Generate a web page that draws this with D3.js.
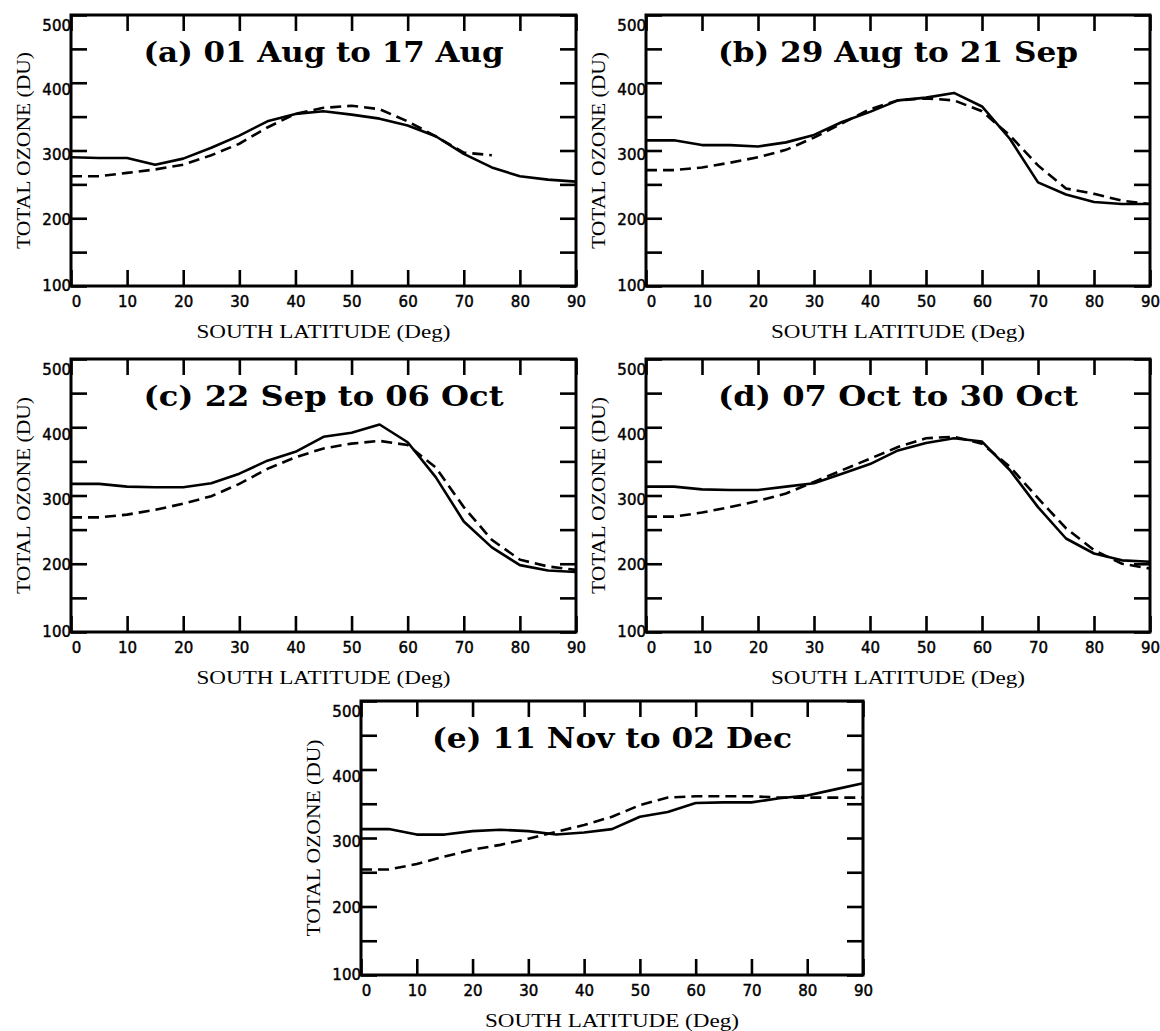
<!DOCTYPE html>
<html><head><meta charset="utf-8">
<script src="https://cdn.jsdelivr.net/npm/d3@7"></script>
<style>body{margin:0;background:#fff}</style>
</head><body>
<svg id="chart" width="1160" height="1031"></svg>
<script>
// ---------- data ----------
const latitudes = [0,5,10,15,20,25,30,35,40,45,50,55,60,65,70,75,80,85,90];
const panelTitles = ["(a) 01 Aug to 17 Aug","(b) 29 Aug to 21 Sep","(c) 22 Sep to 06 Oct","(d) 07 Oct to 30 Oct","(e) 11 Nov to 02 Dec"];
const solidA  = [290,289,289,279,288,304,322,343,354,358,353,347,337,321,295,275,262,257,254];
const dashedA = [262,262,267,272,279,293,310,334,354,363,366,361,343,321,297,293];
const solidB  = [315,315,308,308,306,312,323,342,357,374,378,385,365,317,253,235,224,221,221];
const dashedB = [271,271,275,282,290,301,319,340,361,374,377,374,358,322,278,244,236,226,221];
const solidC  = [317,317,313,312,312,318,332,351,364,386,392,404,378,327,262,224,198,190,188];
const dashedC = [268,268,272,279,288,299,317,339,356,369,376,380,374,341,283,235,206,196,191];
const solidD  = [313,313,309,308,308,313,318,332,346,366,377,384,379,337,283,237,215,205,203];
const dashedD = [269,269,275,283,292,303,320,337,354,371,384,386,376,342,296,252,220,200,193];
const solidE  = [313,313,305,305,310,312,310,305,308,313,331,338,351,352,352,358,362,371,380];
const dashedE = [254,254,262,273,283,290,299,309,319,331,348,359,361,361,361,359,359,359,359];
const xTicks = [0,10,20,30,40,50,60,70,80,90];
const yTicks = [100,150,200,250,300,350,400,450,500];
const yTickLabels = [100,200,300,400,500];
const xAxisTitle = "SOUTH LATITUDE (Deg)";
const yAxisTitle = "TOTAL OZONE (DU)";

// ---------- layout ----------
const layout = [
  {x0:71,  x1:576,  y0:15,  y1:286},
  {x0:646, x1:1150, y0:15,  y1:286},
  {x0:71,  x1:576,  y0:359, y1:632},
  {x0:646, x1:1150, y0:359, y1:632},
  {x0:361, x1:863,  y0:701, y1:975}
];
const series = [[solidA,dashedA],[solidB,dashedB],[solidC,dashedC],[solidD,dashedD],[solidE,dashedE]];

const svg = d3.select("#chart");
svg.append("rect").attr("width",1160).attr("height",1031).attr("fill","#fff");

const TICK = 16;

layout.forEach((L, p) => {
  const x = d3.scaleLinear().domain([0,90]).range([L.x0, L.x1]);
  const y = d3.scaleLinear().domain([100,500]).range([L.y1, L.y0]);
  const g = svg.append("g");

  const styleAxis = sel => {
    sel.select(".domain").remove();
    sel.selectAll(".tick line").attr("stroke","#000").attr("stroke-width",2.6);
  };
  const bottom = g.append("g").attr("transform",`translate(0,${L.y1})`)
    .call(d3.axisBottom(x).tickValues(xTicks).tickSizeInner(-TICK).tickSizeOuter(0).tickPadding(10));
  styleAxis(bottom);
  bottom.selectAll("text").attr("font-family","DejaVu Sans").attr("font-size",15)
    .attr("fill","#000").attr("stroke","#000").attr("stroke-width",0.45)
    .attr("x", d => d === 0 ? 5 : 0);

  const top = g.append("g").attr("transform",`translate(0,${L.y0})`)
    .call(d3.axisTop(x).tickValues(xTicks).tickSizeInner(-TICK).tickSizeOuter(0).tickFormat(""));
  styleAxis(top);

  const left = g.append("g").attr("transform",`translate(${L.x0},0)`)
    .call(d3.axisLeft(y).tickValues(yTicks).tickSizeInner(-TICK).tickSizeOuter(0).tickPadding(0)
      .tickFormat(v => yTickLabels.includes(v) ? String(v) : ""));
  styleAxis(left);
  left.selectAll("text").attr("font-family","DejaVu Sans").attr("font-size",15)
    .attr("fill","#000").attr("stroke","#000").attr("stroke-width",0.45)
    .attr("y", v => 11 * Math.pow((v-100)/400, 1.5));

  const right = g.append("g").attr("transform",`translate(${L.x1},0)`)
    .call(d3.axisRight(y).tickValues(yTicks).tickSizeInner(-TICK).tickSizeOuter(0).tickFormat(""));
  styleAxis(right);

  g.append("rect").attr("x",L.x0).attr("y",L.y0).attr("width",L.x1-L.x0).attr("height",L.y1-L.y0)
    .attr("fill","none").attr("stroke","#000").attr("stroke-width",3);

  const line = d3.line().x((d,i) => x(latitudes[i])).y(d => y(d));
  const [sol, dash] = series[p];
  g.append("path").datum(sol).attr("d",line).attr("fill","none")
    .attr("stroke","#000").attr("stroke-width",2.6).attr("stroke-linejoin","round");
  g.append("path").datum(dash).attr("d",line).attr("fill","none")
    .attr("stroke","#000").attr("stroke-width",2.6).attr("stroke-dasharray","11,6");

  g.append("text").attr("x",(L.x0+L.x1)/2).attr("y",L.y0+47)
    .attr("text-anchor","middle").attr("font-family","DejaVu Serif").attr("font-weight","bold")
    .attr("font-size",27).attr("textLength",360).attr("lengthAdjust","spacingAndGlyphs")
    .attr("fill","#000").text(panelTitles[p]);

  g.append("text").attr("x",(L.x0+L.x1)/2).attr("y",L.y1+52)
    .attr("text-anchor","middle").attr("font-family","Liberation Serif").attr("font-size",19)
    .attr("textLength",254).attr("lengthAdjust","spacingAndGlyphs")
    .attr("fill","#000").text(xAxisTitle);
  g.append("text").attr("transform",`translate(${L.x0-41},${(L.y0+L.y1)/2}) rotate(-90)`)
    .attr("text-anchor","middle").attr("font-family","Liberation Serif").attr("font-size",19)
    .attr("textLength",197).attr("lengthAdjust","spacingAndGlyphs")
    .attr("fill","#000").text(yAxisTitle);
});
</script>
</body></html>
